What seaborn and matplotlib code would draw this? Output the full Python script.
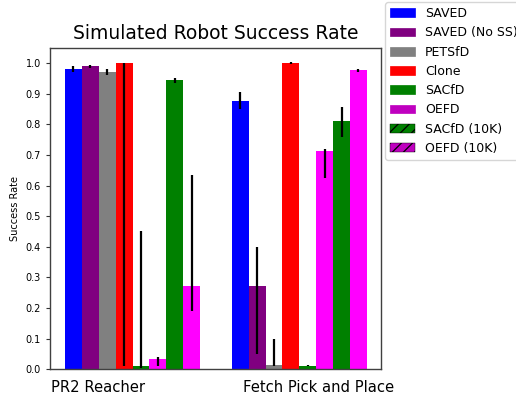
import pandas as pd
import seaborn as sns
import matplotlib.pyplot as plt
from matplotlib.patches import Patch

tasks = ["PR2 Reacher", "Fetch Pick and Place"]
methods = ["SAVED", "SAVED (No SS)", "PETSfD", "Clone", "SACfD", "OEFD",
           "SACfD (10K)", "OEFD (10K)"]
bar_colors = ["blue", "purple", "gray", "red", "green", "#ff00ff", "green", "#ff00ff"]
legend_colors = ["blue", "purple", "gray", "red", "green", "m", "green", "m"]
legend_hatch = [None, None, None, None, None, None, "///", "///"]

# success rate per method, [PR2 Reacher, Fetch Pick and Place]
rate = {
    "SAVED":         [0.980, 0.875],
    "SAVED (No SS)": [0.990, 0.273],
    "PETSfD":        [0.971, 0.015],
    "Clone":         [1.000, 1.000],
    "SACfD":         [0.012, 0.012],
    "OEFD":          [0.032, 0.713],
    "SACfD (10K)":   [0.945, 0.810],
    "OEFD (10K)":    [0.273, 0.977],
}
# ends of the error bars
err_low = {
    "SAVED":         [0.970, 0.850],
    "SAVED (No SS)": [0.983, 0.050],
    "PETSfD":        [0.961, 0.010],
    "Clone":         [0.010, 0.998],
    "SACfD":         [0.005, 0.010],
    "OEFD":          [0.010, 0.625],
    "SACfD (10K)":   [0.935, 0.760],
    "OEFD (10K)":    [0.190, 0.972],
}
err_high = {
    "SAVED":         [0.990, 0.905],
    "SAVED (No SS)": [0.995, 0.400],
    "PETSfD":        [0.980, 0.100],
    "Clone":         [1.000, 1.002],
    "SACfD":         [0.450, 0.014],
    "OEFD":          [0.040, 0.720],
    "SACfD (10K)":   [0.952, 0.857],
    "OEFD (10K)":    [0.635, 0.980],
}

rows = []
for m in methods:
    for i, t in enumerate(tasks):
        rows.append({"task": t, "method": m, "rate": rate[m][i]})
df = pd.DataFrame(rows)

plt.rcParams["hatch.color"] = "black"
plt.rcParams["hatch.linewidth"] = 0.9

fig = plt.figure(figsize=(5.16, 4.0), dpi=100)
ax = fig.add_axes([50 / 516, 1 - 369.3 / 400, 331 / 516, (369.3 - 47.7) / 400])

sns.barplot(data=df, x="task", y="rate", hue="method", hue_order=methods,
            order=tasks, palette=dict(zip(methods, bar_colors)), width=0.81,
            gap=0, errorbar=None, saturation=1, legend=False, ax=ax)

# asymmetric error bars on top of each bar
for m, cont in zip(methods, ax.containers):
    for i, bar in enumerate(cont):
        xc = bar.get_x() + bar.get_width() / 2
        y = rate[m][i]
        ax.errorbar(xc, y, yerr=[[y - err_low[m][i]], [err_high[m][i] - y]],
                    fmt="none", ecolor="black", elinewidth=1.6, capsize=0)

ax.set_ylim(0, 1.05)
ax.set_xlim(-0.495, 1.49)
ax.set_yticks([i / 10 for i in range(11)])
ax.tick_params(axis="y", labelsize=7, length=3, width=0.8, color="0.2")
ax.set_xticks([-0.207, 1.117])
ax.set_xticklabels(tasks, fontsize=10.6)
ax.tick_params(axis="x", length=0, pad=8)
ax.set_xlabel("")
ax.set_ylabel("Success Rate", fontsize=7)
for s in ax.spines.values():
    s.set_color("0.25")
    s.set_linewidth(1.0)
ax.set_title("Simulated Robot Success Rate", fontsize=13.5, pad=6)

handles = []
for m, c, h in zip(methods, legend_colors, legend_hatch):
    if h is None:
        handles.append(Patch(facecolor=c, edgecolor=c, linewidth=0.5, label=m))
    else:
        handles.append(Patch(facecolor=c, edgecolor="black", hatch=h,
                             linewidth=0.3, label=m))
fig.legend(handles=handles, loc="upper left", bbox_to_anchor=(385 / 516, 1 - 2 / 400),
           fontsize=9, borderaxespad=0)

fig.savefig("out.png", dpi=100)
